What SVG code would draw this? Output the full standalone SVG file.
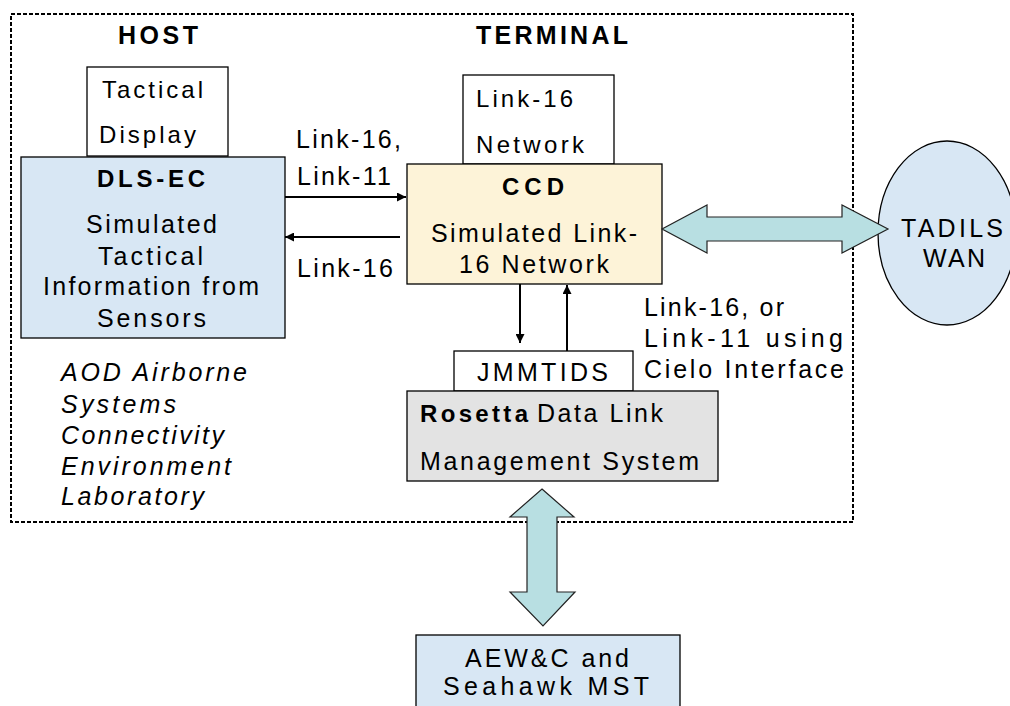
<svg xmlns="http://www.w3.org/2000/svg" width="1010" height="706" viewBox="0 0 1010 706">
<defs>
<style>
text{font-family:"Liberation Sans",Arial,sans-serif;font-size:25px;fill:#000;}
.s{font-size:24px;}
.b{font-weight:bold;font-size:24px;}
.bt{font-weight:bold;font-size:25px;}
.i{font-style:italic;}
.box{stroke:#000;stroke-width:1.3;}
.white{fill:#fff;}
.blue{fill:#d8e7f4;}
.cream{fill:#fdf3d8;}
.gray{fill:#e3e3e3;}
.conn{stroke:#000;stroke-width:2;fill:none;}
.big{fill:#b8dfe2;stroke:#222;stroke-width:1.2;}
</style>
<marker id="ah" viewBox="0 0 10 10" refX="10" refY="5" markerWidth="10" markerHeight="9" markerUnits="userSpaceOnUse" orient="auto">
<path d="M0,0 L10,5 L0,10 z" fill="#000"/>
</marker>
</defs>
<rect width="1010" height="706" fill="#fff"/>
<rect id="border" x="11" y="14" width="842" height="508" fill="none" stroke="#000" stroke-width="2" stroke-dasharray="4 2"/>
<g id="titles">
<text class="bt" x="118" y="44" textLength="80" lengthAdjust="spacing">HOST</text>
<text class="bt" x="476" y="44" textLength="152" lengthAdjust="spacing">TERMINAL</text>
</g>
<g id="tactical-display">
<rect class="box white" x="87" y="67" width="141" height="89"/>
<text class="s" x="102" y="98" textLength="101" lengthAdjust="spacing">Tactical</text>
<text class="s" x="99" y="143" textLength="97" lengthAdjust="spacing">Display</text>
</g>
<g id="dls-ec">
<rect class="box blue" x="21" y="157" width="264" height="181"/>
<text class="b" x="97" y="187" textLength="108" lengthAdjust="spacing">DLS-EC</text>
<text x="86" y="233" textLength="131" lengthAdjust="spacing">Simulated</text>
<text x="98" y="265" textLength="105" lengthAdjust="spacing">Tactical</text>
<text x="43" y="295" textLength="216" lengthAdjust="spacing">Information from</text>
<text x="97" y="327" textLength="109" lengthAdjust="spacing">Sensors</text>
</g>
<g id="lab-label">
<text class="i" x="61" y="381" textLength="186" lengthAdjust="spacing">AOD Airborne</text>
<text class="i" x="61" y="413" textLength="115" lengthAdjust="spacing">Systems</text>
<text class="i" x="61" y="444" textLength="163" lengthAdjust="spacing">Connectivity</text>
<text class="i" x="61" y="475" textLength="170" lengthAdjust="spacing">Environment</text>
<text class="i" x="61" y="505" textLength="143" lengthAdjust="spacing">Laboratory</text>
</g>
<g id="link16-network">
<rect class="box white" x="463" y="75" width="151" height="89"/>
<text class="s" x="476" y="107" textLength="97" lengthAdjust="spacing">Link-16</text>
<text class="s" x="476" y="153" textLength="108" lengthAdjust="spacing">Network</text>
</g>
<g id="ccd">
<rect class="box cream" x="407" y="164" width="255" height="120"/>
<text class="b" x="502" y="195" textLength="62" lengthAdjust="spacing">CCD</text>
<text x="431" y="242" textLength="206" lengthAdjust="spacing">Simulated Link-</text>
<text x="459" y="273" textLength="150" lengthAdjust="spacing">16 Network</text>
</g>
<g id="tadils-wan">
<ellipse class="box blue" cx="947" cy="233" rx="69" ry="92"/>
<text x="901" y="237" textLength="102" lengthAdjust="spacing">TADILS</text>
<text x="923" y="267" textLength="62" lengthAdjust="spacing">WAN</text>
</g>
<g id="jmmtids">
<rect class="box white" x="454" y="351" width="179" height="40"/>
<text x="477" y="381" textLength="131" lengthAdjust="spacing">JMMTIDS</text>
</g>
<g id="rosetta">
<rect class="box gray" x="407" y="391" width="311" height="90"/>
<text class="b" x="420" y="422" textLength="108" lengthAdjust="spacing">Rosetta</text>
<text x="537" y="422" textLength="126" lengthAdjust="spacing">Data Link</text>
<text x="420" y="470" textLength="279" lengthAdjust="spacing">Management System</text>
</g>
<g id="aew">
<rect class="box blue" x="416" y="635" width="264" height="80"/>
<text x="465" y="667" textLength="164" lengthAdjust="spacing">AEW&amp;C and</text>
<text x="443" y="695" textLength="206" lengthAdjust="spacing">Seahawk MST</text>
</g>
<g id="connectors">
<line class="conn" x1="285" y1="197" x2="406" y2="197" marker-end="url(#ah)"/>
<line class="conn" x1="400" y1="237" x2="285" y2="237" marker-end="url(#ah)"/>
<line class="conn" x1="520" y1="284" x2="520" y2="343" marker-end="url(#ah)"/>
<line class="conn" x1="567" y1="351" x2="567" y2="285" marker-end="url(#ah)"/>
<polygon class="big" points="662,229 707,205 707,217 842,217 842,205 888,229 842,253 842,241 707,241 707,253"/>
<polygon class="big" points="542,489 574,517 557,517 557,592 575,592 543,626 510,592 527,592 527,517 510,517"/>
</g>
<g id="connector-labels">
<text x="296" y="148" textLength="105" lengthAdjust="spacing">Link-16,</text>
<text x="297" y="185" textLength="94" lengthAdjust="spacing">Link-11</text>
<text x="297" y="277" textLength="96" lengthAdjust="spacing">Link-16</text>
<text x="644" y="316" textLength="140" lengthAdjust="spacing">Link-16, or</text>
<text x="644" y="347" textLength="199" lengthAdjust="spacing">Link-11 using</text>
<text x="644" y="378" textLength="200" lengthAdjust="spacing">Cielo Interface</text>
</g>
</svg>
